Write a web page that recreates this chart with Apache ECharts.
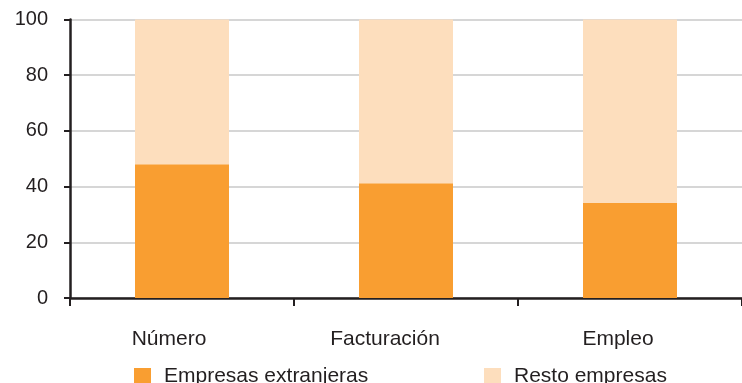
<!DOCTYPE html>
<html>
<head>
<meta charset="utf-8">
<script src="https://cdn.jsdelivr.net/npm/echarts@6/dist/echarts.min.js"></script>
<style>
  html, body { margin: 0; padding: 0; background: #ffffff; }
  #chart { width: 742px; height: 383px; }
</style>
</head>
<body>
<div id="chart"></div>
<script>
// Share of foreign-owned firms vs. the rest (%)
const categories = ['Número', 'Facturación', 'Empleo'];
const extranjeras = [48, 41.2, 34.1];
const resto = [52, 58.8, 65.9];
const yTicks = [0, 20, 40, 60, 80, 100];

// small horizontal nudges for each category label
const labelShift = [26, 42, 24];

const FONT = '"Liberation Sans", Arial, sans-serif';
const INK = '#231f20';
const ORANGE = '#f99e31';
const PEACH = '#fddebd';

const chart = echarts.init(document.getElementById('chart'), null, { renderer: 'canvas' });

const legendText = { fontFamily: FONT, fontSize: 21, color: INK, padding: [0, 0, 0, 8] };

chart.setOption({
  animation: false,
  backgroundColor: '#ffffff',
  grid: { left: 70, right: -3, top: 19.5, bottom: 85, containLabel: false },
  legend: [
    {
      left: 134, top: 366, padding: 0,
      itemWidth: 17, itemHeight: 17, itemGap: 0,
      icon: 'rect',
      textStyle: legendText,
      data: ['Empresas extranjeras']
    },
    {
      left: 484, top: 366, padding: 0,
      itemWidth: 17, itemHeight: 17, itemGap: 0,
      icon: 'rect',
      textStyle: legendText,
      data: ['Resto empresas']
    }
  ],
  xAxis: {
    type: 'category',
    data: categories.map((c, i) => ({ value: c, textStyle: { padding: [0, labelShift[i], 0, 0] } })),
    boundaryGap: true,
    axisLine: { show: true, lineStyle: { color: INK, width: 2.5 } },
    axisTick: { show: true, length: 8, inside: false, lineStyle: { color: INK, width: 2 } },
    axisLabel: { fontFamily: FONT, fontSize: 21, color: INK, margin: 31 },
    splitLine: { show: false }
  },
  yAxis: {
    type: 'value',
    min: 0, max: 100, interval: 20,
    axisLine: { show: true, lineStyle: { color: INK, width: 2.5 } },
    axisTick: { show: true, length: 6, lineStyle: { color: INK, width: 2 } },
    axisLabel: {
      fontFamily: FONT, fontSize: 20, color: INK, margin: 22,
      formatter: v => (yTicks.indexOf(v) >= 0 ? String(v) : '')
    },
    splitLine: { show: true, lineStyle: { color: '#c8c8c8', width: 1.5 } }
  },
  series: [
    {
      name: 'Empresas extranjeras', type: 'bar', stack: 'total',
      barWidth: 94, data: extranjeras,
      itemStyle: { color: ORANGE }
    },
    {
      name: 'Resto empresas', type: 'bar', stack: 'total',
      barWidth: 94, data: resto,
      itemStyle: { color: PEACH }
    }
  ]
});
</script>
</body>
</html>
